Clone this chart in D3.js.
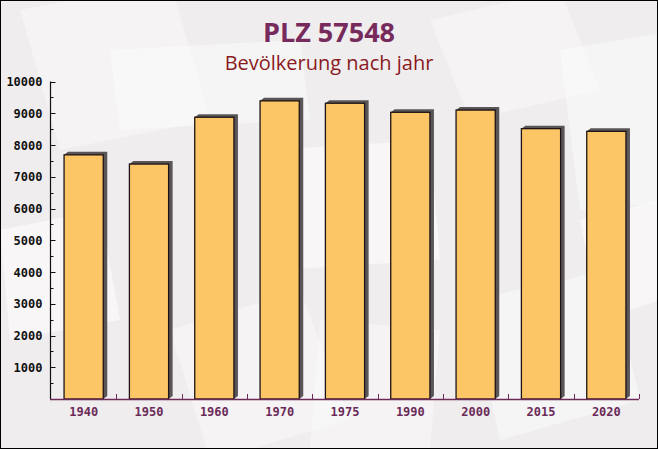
<!DOCTYPE html>
<html>
<head>
<meta charset="utf-8">
<script src="https://cdnjs.cloudflare.com/ajax/libs/d3/7.8.5/d3.min.js"></script>
<style>
html,body{margin:0;padding:0;background:#fff;}
svg{display:block;}
</style>
</head>
<body>
<svg id="chart" width="658" height="449"></svg>
<script>
const categories = ["1940","1950","1960","1970","1975","1990","2000","2015","2020"];
const values = [7690, 7400, 8875, 9390, 9315, 9030, 9100, 8515, 8430];
const yTicks = [1000,2000,3000,4000,5000,6000,7000,8000,9000,10000];
const titleText = "PLZ 57548";
const subtitleText = "Bevölkerung nach jahr";

const W = 658, H = 449;
const svg = d3.select("#chart");

// background
svg.append("rect").attr("x",0).attr("y",0).attr("width",W).attr("height",H).attr("fill","#f0edee");
const deco = svg.append("g").attr("fill","#ffffff");
const shapes = [
  [[20,10],[170,-20],[210,120],[60,150]],
  [[110,50],[300,40],[310,120],[120,130]],
  [[270,150],[430,140],[440,260],[280,270]],
  [[430,20],[560,-10],[600,90],[470,120]],
  [[560,50],[680,30],[690,200],[580,210]],
  [[0,230],[100,210],[120,320],[10,340]],
  [[170,330],[300,290],[350,420],[210,460]],
  [[470,300],[610,270],[640,400],[500,440]],
  [[580,220],[660,200],[660,300],[600,320]],
  [[320,320],[440,330],[430,449],[310,449]]
];
shapes.forEach((s,i)=>{
  deco.append("polygon").attr("points",s.map(p=>p.join(",")).join(" "))
    .attr("opacity", 0.35 + (i%3)*0.08);
});

const x0 = 51, x1 = 639, yTop = 81.5, yBot = 399;
const x = d3.scaleBand().domain(categories).range([x0,x1]).paddingInner(0.4).paddingOuter(0.2);
const y = d3.scaleLinear().domain([0,10000]).range([yBot,yTop]);

// title
svg.append("text").attr("x",329).attr("y",42).attr("text-anchor","middle")
  .attr("font-family","'Open Sans','DejaVu Sans',sans-serif").attr("font-weight","bold")
  .attr("font-size",27).attr("fill","#772a5c").text(titleText);
svg.append("text").attr("x",329).attr("y",70).attr("text-anchor","middle")
  .attr("font-family","'Open Sans','DejaVu Sans',sans-serif")
  .attr("font-size",20).attr("fill","#8a1a1e").text(subtitleText);

// bars
const bars = svg.append("g");
const bw = x.bandwidth();
categories.forEach((c,i)=>{
  const bx = x(c), by = y(values[i]);
  const sx = 4, sy = 3;
  bars.append("polygon")
    .attr("points",[[bx,by],[bx+sx,by-sy],[bx+bw+sx,by-sy],[bx+bw+sx,yBot-sy],[bx+bw,yBot]].map(p=>p.join(",")).join(" "))
    .attr("fill","#5a5658");
  bars.append("rect").attr("x",bx).attr("y",by).attr("width",bw).attr("height",yBot-by)
    .attr("fill","#fcc565")
    .attr("stroke","#1e1414").attr("stroke-width",1.3);
});

// y axis
const yAxisG = svg.append("g").attr("transform",`translate(${x0-0.5},0)`);
yAxisG.append("line").attr("x1",0).attr("x2",0).attr("y1",yTop).attr("y2",yBot).attr("stroke","#111").attr("stroke-width",1.2);
const minor = d3.range(500,10000,1000);
yAxisG.selectAll(".minor").data(minor).enter().append("line")
  .attr("x1",0).attr("x2",3).attr("y1",d=>Math.round(y(d))+0.5).attr("y2",d=>Math.round(y(d))+0.5).attr("stroke","#111");
yAxisG.selectAll(".major").data(yTicks).enter().append("line")
  .attr("x1",0).attr("x2",5).attr("y1",d=>Math.round(y(d))+0.5).attr("y2",d=>Math.round(y(d))+0.5).attr("stroke","#111");
yAxisG.selectAll(".lab").data(yTicks).enter().append("text")
  .attr("x",-8).attr("y",d=>y(d)+4.5).attr("text-anchor","end")
  .attr("font-family","'DejaVu Sans Mono',monospace").attr("font-weight","bold").attr("font-size",12)
  .attr("fill","#111").text(d=>d);

// x axis
const xAxisG = svg.append("g");
xAxisG.append("line").attr("x1",x0-1).attr("x2",x1).attr("y1",yBot+0.5).attr("y2",yBot+0.5).attr("stroke","#6b2a58").attr("stroke-width",1.3);
const step = x.step();
const bounds = d3.range(0,categories.length+1).map(i=>x(categories[0]) - x.paddingOuter()*step + i*step);
xAxisG.selectAll(".xt").data(bounds.slice(1)).enter().append("line")
  .attr("x1",d=>Math.round(d)+0.5).attr("x2",d=>Math.round(d)+0.5).attr("y1",yBot).attr("y2",yBot-5).attr("stroke","#6b2a58");
xAxisG.selectAll(".xl").data(categories).enter().append("text")
  .attr("x",d=>x(d)+bw/2).attr("y",416).attr("text-anchor","middle")
  .attr("font-family","'DejaVu Sans Mono',monospace").attr("font-weight","bold").attr("font-size",12)
  .attr("fill","#6b2a58").text(d=>d);

// frame
svg.append("rect").attr("x",0.5).attr("y",0.5).attr("width",W-1).attr("height",H-1).attr("fill","none").attr("stroke","#000");
</script>
</body>
</html>
